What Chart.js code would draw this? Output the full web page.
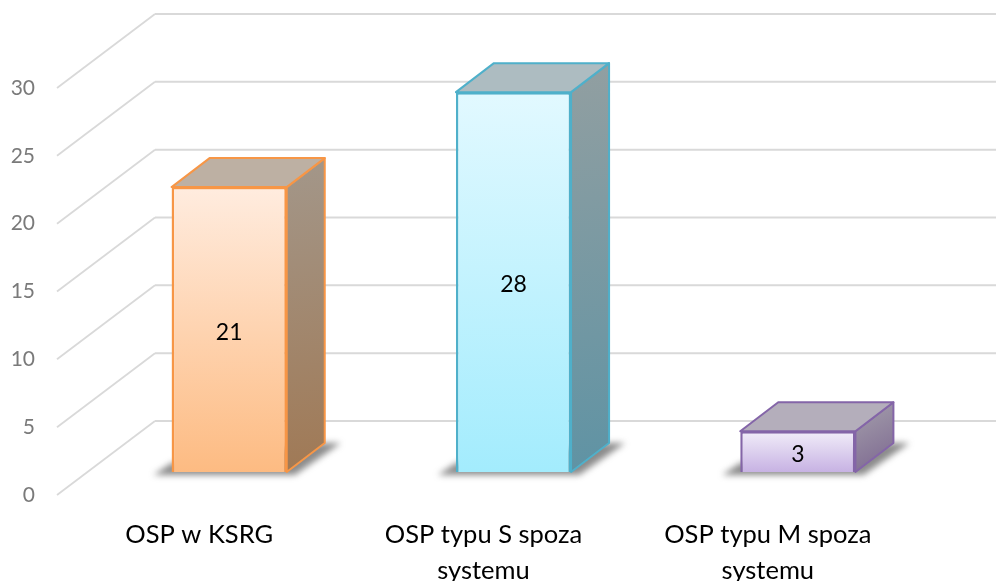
<!DOCTYPE html>
<html>
<head>
<meta charset="utf-8">
<script src="https://cdn.jsdelivr.net/npm/chart.js@4"></script>
<style>
  html, body { margin: 0; padding: 0; background: #fff; }
  canvas { display: block; }
</style>
</head>
<body>
<canvas id="myChart" width="996" height="581"></canvas>
<script>
var categories = [["OSP w KSRG"], ["OSP typu S spoza", "systemu"], ["OSP typu M spoza", "systemu"]];
var values = [21, 28, 3];
var tickStep = 5;
var axisMax = 30;

var frontTop = ["#ffecdf", "#e2f9ff", "#f1edf9"];
var frontBottom = ["#fdbb82", "#a3ecfd", "#c7b2e3"];
var borders = ["#f79646", "#4fb0ca", "#8465a8"];
var topFaces = ["#bdb0a3", "#adbcc1", "#b4aebb"];
var sideTop = ["#a3978a", "#929fa1", "#a5a0ac"];
var sideBottom = ["#a07955", "#5f93a4", "#7b668f"];

// floor depth of the "3d" box
var wallDx = 98, wallDy = -74;
var barShiftX = 30, barShiftY = -23;
var depthX = 38, depthY = -29;

function face(ctx, pts, fill, stroke) {
    ctx.beginPath();
    ctx.moveTo(pts[0][0], pts[0][1]);
    for (var i = 1; i < pts.length; i++) ctx.lineTo(pts[i][0], pts[i][1]);
    ctx.closePath();
    ctx.fillStyle = fill;
    ctx.fill();
    ctx.lineWidth = 2;
    ctx.lineJoin = "round";
    ctx.strokeStyle = stroke;
    ctx.stroke();
}

var box3d = {
    id: "box3d",
    beforeDatasetsDraw: function(chart) {
        var ctx = chart.ctx;
        var xs = chart.scales.x, ys = chart.scales.y;

        // walls
        ctx.save();
        ctx.strokeStyle = "#d9d9d9";
        ys.ticks.forEach(function(t) {
            var y = ys.getPixelForValue(t.value);
            ctx.lineWidth = 1.8;
            ctx.beginPath();
            ctx.moveTo(xs.left, y);
            ctx.lineTo(xs.left + wallDx, y + wallDy);
            ctx.stroke();
            ctx.lineWidth = 2;
            ctx.beginPath();
            ctx.moveTo(xs.left + wallDx, y + wallDy);
            ctx.lineTo(xs.right + wallDx, y + wallDy);
            ctx.stroke();
        });
        ctx.restore();

        // shadow, top and side of each bar
        var bars = chart.getDatasetMeta(0).data;
        bars.forEach(function(bar, i) {
            var l = bar.x - bar.width / 2 + barShiftX;
            var r = bar.x + bar.width / 2 + barShiftX;
            var t = bar.y + barShiftY;
            var b = bar.base + barShiftY;

            ctx.save();
            ctx.filter = "blur(3px)";
            ctx.fillStyle = "rgba(90,90,90,0.7)";
            ctx.beginPath();
            ctx.moveTo(l - 18, b + 3);
            ctx.lineTo(l, b - 9);
            ctx.lineTo(r + depthX, b + depthY);
            ctx.lineTo(r + depthX + 16, b + depthY);
            ctx.lineTo(r + 8, b + 3);
            ctx.closePath();
            ctx.fill();
            ctx.restore();

            var grad = ctx.createLinearGradient(r, t + depthY, r + depthX, b);
            grad.addColorStop(0, sideTop[i]);
            grad.addColorStop(1, sideBottom[i]);
            face(ctx, [[r, t], [r + depthX, t + depthY], [r + depthX, b + depthY], [r, b]], grad, borders[i]);
            face(ctx, [[l, t], [l + depthX, t + depthY], [r + depthX, t + depthY], [r, t]], topFaces[i], borders[i]);
        });

        // the bars themselves land on the shifted plane
        ctx.save();
        ctx.translate(barShiftX, barShiftY);
    },
    afterDatasetsDraw: function(chart) {
        var ctx = chart.ctx;
        ctx.restore();

        ctx.save();
        ctx.font = "23px Lato";
        ctx.fillStyle = "#000";
        ctx.textAlign = "center";
        ctx.textBaseline = "middle";
        chart.getDatasetMeta(0).data.forEach(function(bar, i) {
            ctx.fillText(values[i], bar.x + barShiftX, (bar.y + bar.base) / 2 + barShiftY + 3);
        });
        ctx.restore();
    }
};

var ctx = document.getElementById("myChart").getContext("2d");
var chart = new Chart(ctx, {
    type: "bar",
    data: {
        labels: categories,
        datasets: [{
            data: values,
            backgroundColor: function(c) {
                var ys = c.chart.scales.y;
                if (!ys || c.dataIndex === undefined) return frontBottom[0];
                var y0 = ys.getPixelForValue(values[c.dataIndex]);
                var y1 = ys.getPixelForValue(0);
                if (!isFinite(y0) || !isFinite(y1)) return frontBottom[c.dataIndex];
                var g = c.chart.ctx.createLinearGradient(0, y0, 0, y1);
                g.addColorStop(0, frontTop[c.dataIndex]);
                g.addColorStop(1, frontBottom[c.dataIndex]);
                return g;
            },
            borderColor: borders,
            borderWidth: 2.5,
            barPercentage: 0.405,
            categoryPercentage: 1
        }]
    },
    plugins: [box3d],
    options: {
        responsive: false,
        animation: false,
        layout: { padding: { top: 88, right: 86, left: 0, bottom: 0 } },
        plugins: { legend: { display: false }, tooltip: { enabled: false } },
        scales: {
            x: {
                grid: { display: false, drawTicks: false },
                border: { display: false },
                afterFit: function(s) { s.height = 86; },
                ticks: {
                    maxRotation: 0,
                    autoSkip: false,
                    padding: 22,
                    color: "#000",
                    font: { family: "Lato", size: 25.5, lineHeight: 1.41 }
                }
            },
            y: {
                min: 0,
                max: axisMax,
                grid: { display: false, drawTicks: false },
                border: { display: false },
                afterFit: function(s) { s.width = 57; },
                ticks: {
                    stepSize: tickStep,
                    padding: 22,
                    color: "#7a7a7a",
                    font: { family: "Lato", size: 21 }
                }
            }
        }
    }
});
</script>
</body>
</html>
